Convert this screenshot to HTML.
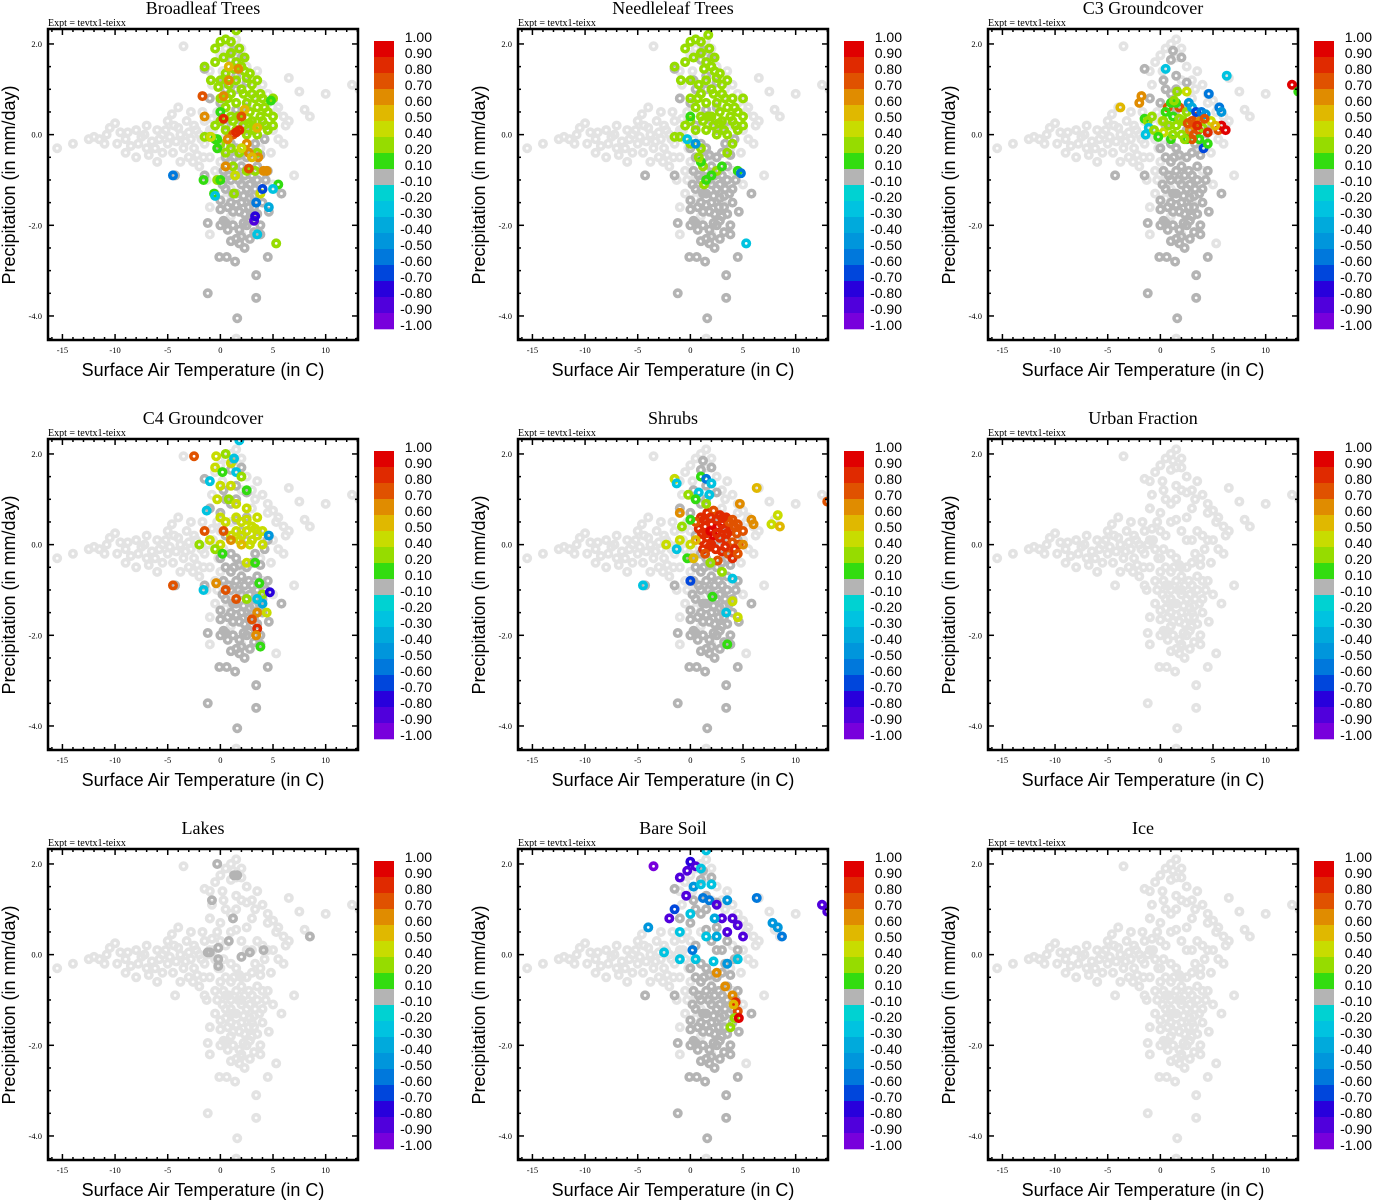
<!DOCTYPE html>
<html><head><meta charset="utf-8"><title>Vegetation fraction scatter</title>
<style>
body{margin:0;background:#fff;}
svg{display:block;}
.ser{font-family:"Liberation Serif",serif;}
.san{font-family:"Liberation Sans",sans-serif;}
</style></head>
<body>
<svg id="chart" width="1373" height="1200" viewBox="0 0 1373 1200" xmlns="http://www.w3.org/2000/svg"></svg>
<script>
// ---- data ----
const panelTitles = ["Broadleaf Trees","Needleleaf Trees","C3 Groundcover","C4 Groundcover","Shrubs","Urban Fraction","Lakes","Bare Soil","Ice"];
const colorbarLabels = ["1.00","0.90","0.80","0.70","0.60","0.50","0.40","0.20","0.10","-0.10","-0.20","-0.30","-0.40","-0.50","-0.60","-0.70","-0.80","-0.90","-1.00"];
const binLevels = [1.0,0.9,0.8,0.7,0.6,0.5,0.4,0.2,0.1,-0.1,-0.2,-0.3,-0.4,-0.5,-0.6,-0.7,-0.8,-0.9,-1.0];
const binColors = ["#e00000","#e02a00","#e05200","#e08c00","#e0b800","#c8dc00","#96dc00","#32dc10","#b4b4b4","#00d2d2","#00c3e0","#00aadc","#0096dc","#0078dc","#0046dc","#2800dc","#5000dc","#7800dc"];
const xTicks = [-15,-10,-5,0,5,10];
const yTicks = [2,0,-2,-4];
const yTickLabels = ["2.0","0.0","-2.0","-4.0"];

// background cloud (T, P), no fraction defined -> light gray
const basePoints = "-15.5,-0.3;-14,-0.2;-12,-0.05;-11.5,-0.1;-11,-0.2;-10.5,0.15;-10,0.25;-9.5,0.05;-9,-0.1;-8.5,-0.25;-8,0.1;-7.5,-0.05;-7,-0.3;-6.5,-0.15;-6,0.1;-5.5,0;-5,-0.2;-4.5,-0.4;-4,0.6;-4,0.15;-3.5,-0.3;-3,0.05;-3,-0.5;-2.5,0.2;-2.5,-0.3;-2,0;-2,-0.7;-1.5,0.3;-1.5,-0.2;-1,-0.5;-1,0.1;-0.5,-0.1;-0.5,-0.8;-8,-0.5;-6,-0.6;-5,0.3;-7,0.2;-9,-0.4;-3.5,1.95;-1,1.4;-0.5,1.6;0,1.75;0.5,1.9;1,2.0;1.5,2.1;2,1.9;1.5,1.7;2.5,1.5;3,1.2;3.5,1.4;4,1.1;4.5,0.9;5,0.75;5.5,0.6;6,0.4;6.5,0.3;7,-0.9;7.5,0.95;8,0.55;8.5,0.4;10,0.9;12.5,1.1;6.5,1.25;3,-1.5;2,-2.2;1,-1.8;-1,-1.6;-1,-2.2;5.3,-2.4;-0.3,-1.0;2,-0.5;1,0.5;0,0.3;3,0.8;2,1.2;4,0.2;5,0.1;6,-0.2;1.5,-4.5;-1,0.8;0,-0.6;1,-1.2;2,-1;4,-0.8;5,-1.1;3.8,-0.3;-12.5,-0.1;-6.8,-0.45;-4.2,-0.15;-3.2,0.3;-2.2,-0.45;-1.7,0.5;-0.8,0.35;13.2,1.0;-1.3,-1.0;0.5,-1.4;-10.8,0.0;-9.8,-0.2;-8.8,0.05;-7.8,-0.2;-7.2,0.0;-6.2,-0.3;-5.8,-0.1;-5.2,0.1;-4.8,-0.05;-4.4,0.2;-3.8,0.0;-3.3,-0.15;-2.8,-0.1;-2.3,0.1;-1.8,-0.1;-1.2,0.0;-0.7,0.1;-0.2,-0.3;-5.5,-0.4;-3.8,-0.6;-2.6,-0.6;-1.6,-0.5;-4.6,0.45;-2.8,0.5;-0.3,0.5;0.3,-0.1;-0.8,1.1;0.2,1.4;3.3,1.0;4.5,0.7;5.3,0.5;6.2,0.2;5.5,-0.1;4.8,-0.4;-0.5,-1.3;0.5,-0.9";
// zero-fraction cluster (drawn gray where fraction defined)
const zeroPoints = "-1.2,-3.5;1.6,-4.05;3.4,-3.6;3.4,-3.1;-0.1,-2.7;0.6,-2.7;1.4,-2.8;2.3,-2.5;4.5,-2.7;0,-2;0.5,-1.95;-1.2,-1.95;1.5,-2.3;2,-2.25;2.8,-2.3;3.8,-2.0;3.8,-2.2;0,-1.65;1.2,-1.7;1.8,-1.7;2.8,-1.4;3.2,-1.6;4.6,-1.7;0,-1.45;0.5,-1.2;1,-1.0;1.5,-1.3;2,-1.1;2.5,-1.2;3,-0.9;3.5,-1.0;4,-1.2;1,-0.6;1.5,-0.8;2,-0.7;2.5,-0.5;3,-0.4;3.5,-0.7;4.5,-0.8;5.8,-1.3;-1.5,-0.9;0,-0.3;1,-0.2;-1.5,1.45;1,1.65;1.5,1.3;2.5,1.15;0.3,1.2;-1,0.8;0,0.7;1,0.9;2,0.3;2.5,0.6;3.5,0.3;4.5,0.1;-4.3,-0.9;4.2,-0.1;1.2,1.85;0.5,0.2;2,-1.5;1,-1.5;3,-1.8;4,-1.5;0.7,-2.1;1.8,-2.1;2.8,-1.9;1.5,-0.3;3.3,-0.2;0.8,-0.9;2.2,-1.35;3.3,-1.2;1.2,-2.0;2.5,-2.0;0.3,-0.8;1.8,-2.4;0.2,-1.1;0.7,-1.6;1.3,-0.5;1.7,-1.0;2.3,-0.9;2.7,-0.8;3.2,-1.35;3.7,-1.3;4.3,-1.0;1.2,-1.3;2.7,-1.6;3.5,-1.75;1.5,-1.55;2.3,-1.75;0.3,-1.9;1,-2.35;2.2,-1.95;3.2,-2.15;0.5,-0.5;2.8,-1.1;1.8,-0.45;3.8,-0.45;2.5,0.1;1.5,0.55;0.5,1.0;2,1.7;1.5,1.0;3,0.1";

const broadleafValues = "-0.5,1.9,0.3;0,2.05,0.3;0.5,2.1,0.3;1,2.05,0.3;1.5,2.3,0.3;-0.5,1.6,0.3;0.3,1.7,0.3;1,1.8,0.3;1.5,1.6,0.3;2,1.5,0.3;-1.5,1.5,0.3;2.3,1.4,0.3;-0.9,1.2,0.3;0,1.2,0.3;0.8,1.1,0.3;1.5,1.2,0.3;2.5,1.25,0.3;3,1.1,0.3;3.5,1.2,0.3;1,0.9,0.3;2,1,0.3;3,0.9,0.3;4,0.8,0.3;5,0.8,0.3;0,0.8,0.3;0.5,0.6,0.3;1.5,0.7,0.3;2.5,0.7,0.3;3.5,0.6,0.3;4.5,0.5,0.3;5,0.4,0.3;0,0.3,0.3;1,0.4,0.3;2,0.4,0.3;3,0.3,0.3;4,0.3,0.3;5,0.2,0.3;-0.5,0.2,0.3;0.5,0.1,0.3;1.5,0.1,0.3;2.5,0,0.3;3.5,0,0.3;4.5,0.1,0.3;-1.5,-0.05,0.3;-1,-0.05,0.3;0,-0.2,0.3;1,-0.3,0.3;3.5,-0.4,0.3;1.2,-0.7,0.3;2.5,-0.8,0.3;3.3,-0.8,0.3;-0.3,-1.0,0.3;1.3,-1.3,0.3;5.3,-2.4,0.3;5.5,-1.1,0.15;-1.6,-1.0,0.15;-0.6,-1.3,0.15;0.5,-0.4,0.3;1.8,-0.4,0.3;2.2,0.9,0.3;3.8,0.4,0.3;2.8,0.5,0.3;1.2,0.3,0.3;2.2,0.2,0.3;3.2,0.1,0.3;4.2,0.6,0.3;-0.3,-0.1,0.15;-0.3,-0.3,0.15;0,0.5,0.15;-0.5,-0.1,0.15;0,-1.0,0.15;4.8,0.75,0.15;1.8,1.9,0.3;2.3,1.7,0.3;2.8,1.35,0.3;3.3,0.8,0.3;4.3,0.2,0.3;3.8,0.9,0.3;2.7,0.25,0.3;1.7,0.4,0.3;0.7,0.8,0.3;1.3,1.45,0.3;0.5,1.35,0.3;-0.2,1.05,0.3;-1.7,0.85,0.75;-1.5,0.4,0.65;0.3,0.85,0.65;1.7,1.45,0.65;0.8,1.5,0.55;0.8,1.2,0.6;0.3,0.35,0.8;1.2,0.0,0.75;1.8,0.1,0.8;1.5,0.05,0.85;0.7,-0.1,0.6;2.5,-0.2,0.65;2.7,-0.4,0.6;3.6,-0.5,0.65;0.5,-0.7,0.6;2.7,-0.75,0.7;4.1,-0.8,0.65;4.4,-0.8,0.6;2.3,0.55,0.5;2,0.4,0.7;3.5,0.15,0.55;-0.9,-0.05,0.45;1.4,-0.9,0.45;3.8,-1.3,0.45;2,-0.3,0.45;3,-0.5,0.55;-4.5,-0.9,-0.55;-0.5,-1.35,-0.25;4,-1.2,-0.65;5,-1.2,-0.25;3.4,-1.5,-0.6;4.6,-1.6,-0.4;3.2,-1.9,-0.85;3.3,-1.8,-0.75;3.5,-2.2,-0.3";
const needleleafValues = "-0.5,1.9,0.3;0,2.05,0.3;0.5,2.1,0.3;1,2.05,0.3;1.7,2.2,0.3;-0.5,1.6,0.3;0.3,1.7,0.3;1,1.8,0.3;1.5,1.6,0.3;2,1.5,0.3;-1.5,1.5,0.3;2.3,1.4,0.3;-0.9,1.2,0.3;0,1.2,0.3;0.8,1.1,0.3;1.5,1.2,0.3;2.5,1.25,0.3;3,1.1,0.3;3.5,1.2,0.3;1,0.9,0.3;2,1,0.3;3,0.9,0.3;4,0.8,0.3;5,0.8,0.3;0,0.8,0.3;0.5,0.6,0.3;1.5,0.7,0.3;2.5,0.7,0.3;3.5,0.6,0.3;4.5,0.5,0.3;5,0.4,0.3;0,0.3,0.3;1,0.4,0.3;2,0.4,0.3;3,0.3,0.3;4,0.3,0.3;5,0.2,0.3;-0.5,0.2,0.3;0.5,0.1,0.3;1.5,0.1,0.3;2.5,0,0.3;3.5,0,0.3;4.5,0.1,0.3;-1.5,-0.05,0.3;-1,-0.05,0.3;0,-0.2,0.3;1,-0.3,0.3;3.5,-0.4,0.3;1.2,-0.7,0.3;2.5,-0.8,0.3;1.3,-1.1,0.3;2.2,0.9,0.3;3.8,0.4,0.3;2.8,0.5,0.3;1.2,0.3,0.3;2.2,0.2,0.3;3.2,0.1,0.3;4.2,0.6,0.3;1.8,1.9,0.3;2.3,1.7,0.3;2.8,1.35,0.3;3.3,0.8,0.3;4.3,0.2,0.3;2.7,0.25,0.3;1.7,0.4,0.3;0.7,0.8,0.3;1.3,1.45,0.3;0,0.4,0.15;1,-0.6,0.15;2,-0.9,0.15;1.5,-1.0,0.15;3,-0.7,0.15;4.5,-0.8,0.15;-0.3,-0.1,-0.3;4.8,-0.85,-0.6;5.3,-2.4,-0.3;0.5,-0.2,-0.5;4,-0.2,0.3;0.8,-0.5,0.3";
const c3Values = "-3.8,0.6,0.55;-2,0.7,0.65;-1.8,0.85,0.65;-1.5,0.35,0.15;-1.2,0.3,0.3;-1.4,0.0,-0.25;-1.1,0.15,-0.3;0.5,1.45,-0.3;0.2,0.3,0.45;0.3,0.05,0.45;0.7,0.6,0.75;1,0.7,0.15;1.2,0.4,0.15;0.8,0.2,0.3;1.0,-0.1,0.15;1.5,0.2,0.3;1.8,0.6,0.75;2.5,0.95,0.45;1.6,0.95,0.3;2.5,0.5,0.3;2.2,0.3,0.3;2,0,0.3;2.5,-0.1,0.15;2.8,0.1,0.65;3,0.3,0.7;3.3,0.25,0.75;3.5,0.4,0.75;3.2,0.0,0.75;3.6,0.1,0.75;3.8,0.3,0.6;4,0.15,0.3;3.7,-0.1,0.15;3,-0.1,0.75;2.7,0.7,-0.5;3,0.6,-0.4;3.4,0.5,-0.7;3.9,0.5,-0.6;4.3,0.45,-0.45;4.6,0.9,-0.6;5.6,0.6,-0.55;5.8,0.5,-0.5;6.3,1.3,-0.25;4.1,-0.3,-0.7;4.5,0.05,0.85;5.5,0.1,0.75;5.8,0.2,0.9;6.2,0.1,0.95;4.8,0.3,0.45;5.2,0.2,0.55;4.5,-0.2,0.15;12.5,1.1,0.9;13.1,0.95,0.15;1.5,0.7,0.15;0.5,0.5,0.15;-0.6,0.1,0.3;-0.2,-0.05,0.15;1.2,0.0,0.3;2.3,-0.1,0.2;1.8,0.35,0.3;2.6,0.25,0.75;4.2,0.35,0.7;3.5,0.2,0.8;0.3,0.3,0.2;-0.8,0.4,0.3;1.3,0.75,0.3";
const c4Values = "-0.4,1.95,0.45;-2.5,1.95,0.75;0.5,2.0,0.3;1,1.8,0.45;1.3,1.9,-0.3;1.8,2.3,-0.3;-0.5,1.7,0.45;0.2,1.6,0.15;1.5,1.6,-0.3;2,1.5,0.3;-1,1.4,-0.3;0,1.3,0.45;1,1.3,0.45;2.5,1.2,0.15;-0.3,1.0,0.45;0.8,1.0,0.3;1.5,0.9,0.45;2.5,0.8,0.45;3.5,0.6,0.45;-1.3,0.75,-0.3;0,0.6,0.45;0.5,0.5,0.45;1.5,0.6,0.45;2,0.5,0.45;3,0.4,0.45;4,0.3,0.45;1,0.2,0.45;2,0.2,0.45;3,0.1,0.45;4,0.0,0.45;2.5,0.3,0.45;3.5,0.2,0.45;1.5,0.3,0.45;2.5,0.55,0.45;3.3,0.35,0.45;1.8,0.1,0.45;2.8,0.0,0.45;0.3,0.3,0.7;1,0.1,0.65;2,0.0,0.5;0,0,0.45;-1.5,0.3,0.75;-1,0.1,0.45;-0.5,-0.1,0.3;4.6,0.2,-0.45;-2,0,0.3;0.2,-0.2,0.15;2.5,-0.4,0.45;3.3,-0.4,0.15;-4.5,-0.9,0.75;-1.6,-1.0,-0.3;-0.4,-0.85,0.65;0.5,-1.0,0.75;3.7,-0.85,0.15;4,-1.1,0.3;4.7,-1.05,-0.75;4,-1.3,-0.4;1.5,-1.2,0.75;2.5,-1.2,0.3;3.5,-1.5,0.65;3.0,-1.65,0.75;3.5,-1.85,0.85;3.4,-2.0,0.65;4.4,-1.5,0.45;3.8,-2.25,0.15;3.5,-1.2,-0.3";
const shrubValues = "1,0.6,0.85;1.6,0.7,0.8;2.2,0.75,0.75;2.8,0.65,0.85;3.4,0.6,0.8;4,0.55,0.75;4.5,0.45,0.75;0.8,0.35,0.8;1.4,0.4,0.85;2,0.45,0.85;2.6,0.4,0.9;3.2,0.35,0.85;3.8,0.3,0.8;4.4,0.25,0.75;5,0.3,0.75;1,0.1,0.8;1.6,0.15,0.85;2.2,0.2,0.9;2.8,0.15,0.85;3.4,0.1,0.8;4,0.05,0.75;4.6,0.0,0.75;1.2,-0.1,0.8;1.8,-0.05,0.85;2.4,-0.1,0.8;3,-0.15,0.8;3.6,-0.2,0.75;2.6,-0.35,0.75;4,-0.3,0.8;1.5,0.25,0.85;3.0,0.45,0.85;2.0,0.0,0.85;3.7,0.5,0.75;0.5,0.5,0.75;4.2,-0.1,0.8;1.3,0.55,0.85;1.9,0.6,0.8;2.5,0.55,0.85;3.1,0.6,0.8;1.1,0.25,0.85;1.9,0.3,0.9;2.5,0.25,0.85;3.5,0.25,0.8;4.2,0.4,0.75;1.4,-0.2,0.75;3.3,-0.05,0.8;-1.5,1.45,0.45;-1.3,1.35,-0.3;1,1.5,0.15;1.5,1.45,-0.6;2,1.35,-0.3;-0.2,1.1,0.3;0.8,1.15,-0.3;1.8,1.1,-0.3;0.5,1.0,0.15;1.5,0.9,0.3;-1,0.7,0.65;-2.3,0,0.45;-1.3,-0.1,-0.25;-1,0.1,0.45;0,0,0.45;-0.3,-0.3,0.15;-0.8,0.4,0.35;0,0.55,0.15;4.7,0.9,0.65;6.3,1.25,0.5;5.8,0.55,0.6;6,0.45,0.65;7.7,0.45,0.45;8.3,0.65,0.45;8.5,0.4,0.5;13,0.95,0.75;-4.5,-0.9,-0.3;0,-0.8,-0.7;1.9,-0.4,0.3;3,-0.6,0.35;4,-0.75,-0.25;2.1,-1.15,0.15;4,-1.25,0.45;3.4,-1.5,-0.3;4.5,-1.6,0.45;3.5,-2.2,0.15;0.5,0.1,0.5;0.3,-0.3,0.55;5,0.0,0.6;4.5,-0.2,0.7";
const urbanValues = "";
const lakeValues = "-0.3,2.0,0;1.3,1.75,0;1.6,1.75,0;-0.8,1.2,0;1.2,0.8,0;0.8,0.3,0;-1.2,0.05,0;-1,0.05,0;-0.2,0.15,0;-0.2,-0.1,0;-0.2,-0.25,0;2,-0.05,0;2.8,0.05,0;4.1,0.1,0;8.5,0.4,0";
const bareSoilValues = "-3.5,1.95,-0.95;-0.3,1.85,-0.9;0,2.05,-0.8;0.5,1.95,-0.9;1,1.9,-0.3;1.5,2.3,-0.3;-1,1.7,-0.85;0.3,1.5,-0.5;1,1.55,-0.3;2,1.55,-0.3;-0.4,1.3,-0.9;1.8,1.2,-0.55;2.5,1.1,-0.9;3.5,1.2,-0.5;-1.5,1.0,-0.7;0,0.9,-0.3;3,0.8,-0.85;4,0.8,-0.9;4.5,0.65,-0.9;-4,0.6,-0.45;-2,0.8,-0.85;-1,0.5,-0.3;1.5,0.4,-0.3;2.5,0.4,-0.4;3.5,0.5,-0.85;5,0.4,-0.85;6.3,1.25,-0.55;7.8,0.7,-0.45;8.3,0.6,-0.5;8.7,0.4,-0.55;12.5,1.1,-0.9;13,0.95,-0.9;-2.5,0.05,-0.3;-1,-0.1,-0.3;0.5,-0.1,-0.3;2.2,-0.15,-0.3;3.5,-0.2,-0.5;4.5,-0.1,-0.3;0.2,0.1,-0.55;2.3,0.8,-0.4;1.2,1.25,-0.6;2.5,-0.4,0.6;3.3,-0.7,0.65;4,-0.9,0.65;4.3,-1.05,0.85;4.5,-1.25,0.75;4.2,-1.4,0.35;4.6,-1.4,0.95;3.8,-1.6,0.3;4.1,-1.1,0.55";
const iceValues = "";
const panelValues = [broadleafValues,needleleafValues,c3Values,c4Values,shrubValues,urbanValues,lakeValues,bareSoilValues,iceValues];
const panelHasZeroCluster = [true,true,true,true,true,false,false,true,false];

// ---- drawing ----
const NS = "http://www.w3.org/2000/svg";
const svg = document.getElementById("chart");
function parse(s){ return s ? s.split(";").map(r => r.split(",").map(Number)) : []; }
function mk(tag, attrs, parent){ const e = document.createElementNS(NS, tag); for (const k in attrs) e.setAttribute(k, attrs[k]); parent.appendChild(e); return e; }
const BOX = {l:48, r:358, t:29, b:340};
const X0 = -16.37, X1 = 13.07, Y0 = -4.53, Y1 = 2.33;
const MR = 3.2, MW = 3.6;
function xs(v){ return BOX.l + (v - X0) / (X1 - X0) * (BOX.r - BOX.l); }
function ys(v){ return BOX.b - (v - Y0) / (Y1 - Y0) * (BOX.b - BOX.t); }
function colorFor(v){
  for (let i = 0; i < binColors.length; i++) { if (v >= binLevels[i+1]) return binColors[i]; }
  return binColors[binColors.length-1];
}
const base = parse(basePoints), zeros = parse(zeroPoints);

panelTitles.forEach((title, p) => {
  const ox = (p % 3) * 470, oy = Math.floor(p / 3) * 410;
  const g = mk("g", {transform: `translate(${ox},${oy})`}, svg);
  
  

  const t = mk("text", {x:203, y:14, "text-anchor":"middle", "font-size":18, class:"ser"}, g);
  t.textContent = title;
  
  
  const ex = mk("text", {x:48, y:26, "font-size":10, class:"ser"}, g);
  ex.textContent = "Expt = tevtx1-teixx";
  
  

  const cid = "clip" + p;
  const cp = mk("clipPath", {id:cid}, g);
  mk("rect", {x:BOX.l, y:BOX.t, width:BOX.r-BOX.l, height:BOX.b-BOX.t}, cp);
  const pts = mk("g", {"clip-path":`url(#${cid})`, fill:"none", "stroke-width":MW}, g);
  
  

  base.forEach(d => {
    const c = mk("circle", {cx:xs(d[0]), cy:ys(d[1]), r:MR, stroke:"#e3e3e3"}, pts);
    
    
  });
  zeros.forEach(d => {
    const c = mk("circle", {cx:xs(d[0]), cy:ys(d[1]), r:MR, stroke: panelHasZeroCluster[p] ? "#b4b4b4" : "#e3e3e3"}, pts);
    
    
  });
  parse(panelValues[p]).forEach(d => {
    const c = mk("circle", {cx:xs(d[0]), cy:ys(d[1]), r:MR, stroke:colorFor(d[2])}, pts);
    
    
  });

  const bx = mk("rect", {x:BOX.l, y:BOX.t, width:BOX.r-BOX.l, height:BOX.b-BOX.t, fill:"none", stroke:"#000", "stroke-width":2.5}, g);
  
  
  const tk = mk("g", {stroke:"#000", "stroke-width":1.5}, g);
  
  
  for (let v = -16; v <= 13; v++) {
    const major = v % 5 === 0, L = major ? 6 : 3, x = xs(v);
    mk("line", {x1:x, x2:x, y1:BOX.b, y2:BOX.b-L}, tk);
    mk("line", {x1:x, x2:x, y1:BOX.t, y2:BOX.t+L}, tk);
  }
  for (let i = -9; i <= 4; i++) {
    const v = i * 0.5, major = i % 4 === 0, L = major ? 6 : 3, y = ys(v);
    mk("line", {x1:BOX.l, x2:BOX.l+L, y1:y, y2:y}, tk);
    mk("line", {x1:BOX.r, x2:BOX.r-L, y1:y, y2:y}, tk);
  }
  xTicks.forEach(v => {
    const e = mk("text", {x:xs(v), y:353, "text-anchor":"middle", "font-size":8.5, class:"ser"}, g);
    e.textContent = v;
    
    
  });
  yTicks.forEach((v, i) => {
    const e = mk("text", {x:42, y:ys(v)+3, "text-anchor":"end", "font-size":8.5, class:"ser"}, g);
    e.textContent = yTickLabels[i];
    
    
  });
  const xl = mk("text", {x:203, y:376, "text-anchor":"middle", "font-size":18, class:"san"}, g);
  xl.textContent = "Surface Air Temperature (in C)";
  
  
  const yl = mk("text", {x:0, y:0, "text-anchor":"middle", "font-size":18, class:"san", transform:"translate(15,185) rotate(-90)"}, g);
  yl.textContent = "Precipitation (in mm/day)";
  
  

  const cb = mk("g", {}, g);
  
  
  binColors.forEach((c, i) => {
    const r = mk("rect", {x:374, y:41 + i*16, width:20, height:16.3, fill:c}, cb);
    
    
  });
  colorbarLabels.forEach((s, i) => {
    const e = mk("text", {x:432, y:42 + i*16, "text-anchor":"end", "font-size":14, class:"san"}, cb);
    e.textContent = s;
    
    
  });
});
</script>
</body></html>
